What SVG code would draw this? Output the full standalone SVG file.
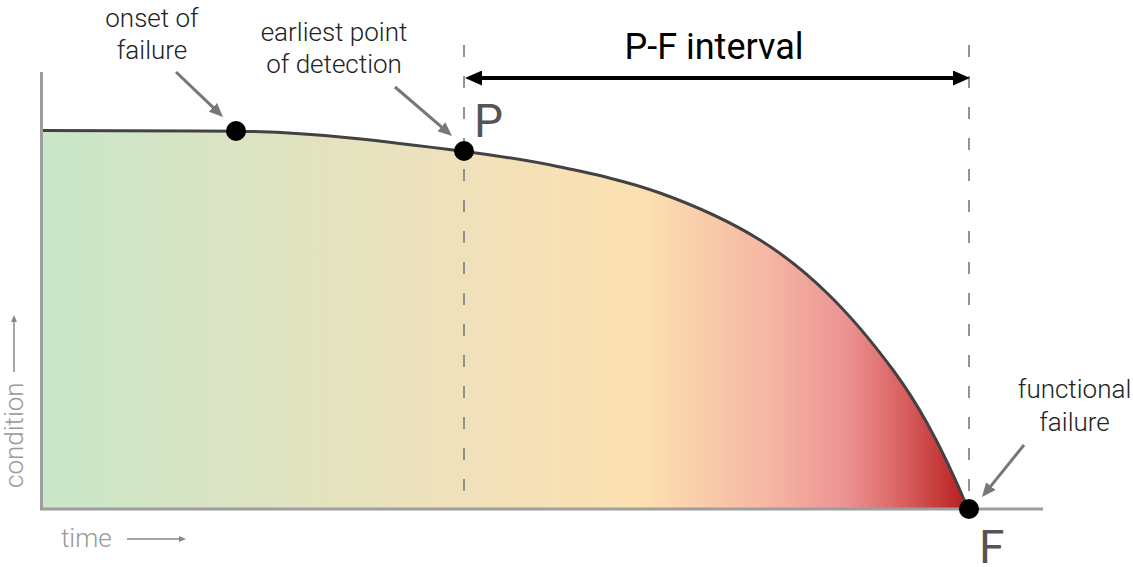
<svg xmlns="http://www.w3.org/2000/svg" width="1133" height="567" viewBox="0 0 1133 567">
  <style>
    .lbl { font-family: Roboto, "Liberation Sans", sans-serif; font-weight: 300; font-size: 26px; fill: #222; text-anchor: middle; }
    .ax { font-family: Roboto, "Liberation Sans", sans-serif; font-weight: 300; font-size: 26px; fill: #999; }
    .big { font-family: Roboto, "Liberation Sans", sans-serif; font-weight: 400; font-size: 46px; fill: #555; }
    .title { font-family: Roboto, "Liberation Sans", sans-serif; font-weight: 400; font-size: 36px; fill: #000; text-anchor: middle; }
    .dash { stroke: #888; stroke-width: 1.8; stroke-dasharray: 12 19; fill: none; }
    .axis { stroke: #9e9e9e; stroke-width: 3; fill: none; }
    .ann { stroke: #777; stroke-width: 3; fill: none; marker-end: url(#grayHead); }
    .axarrow { stroke: #888; stroke-width: 1.5; fill: none; marker-end: url(#smallHead); }
    .dot { fill: #000; }
  </style>
  <defs>
    <linearGradient id="cond" gradientUnits="userSpaceOnUse" x1="41" y1="0" x2="968" y2="0">
      <stop offset="0" stop-color="#c8e6c9"/>
      <stop offset="0.45" stop-color="#f0e1bb"/>
      <stop offset="0.65" stop-color="#fde0b0"/>
      <stop offset="0.78" stop-color="#f6b8a4"/>
      <stop offset="0.87" stop-color="#ec9292"/>
      <stop offset="0.93" stop-color="#d96060"/>
      <stop offset="1" stop-color="#b71c1c"/>
    </linearGradient>
    <marker id="grayHead" viewBox="0 0 14 12" refX="10" refY="6" markerWidth="14" markerHeight="12" markerUnits="userSpaceOnUse" orient="auto">
      <path d="M0,0 L14,6 L0,12 Z" fill="#777"/>
    </marker>
    <marker id="blackHead" viewBox="0 0 17 15" refX="12" refY="7.5" markerWidth="17" markerHeight="15" markerUnits="userSpaceOnUse" orient="auto-start-reverse">
      <path d="M0,0 L17,7.5 L0,15 Z" fill="#000"/>
    </marker>
    <marker id="smallHead" viewBox="0 0 7 6" refX="5" refY="3" markerWidth="7" markerHeight="6" markerUnits="userSpaceOnUse" orient="auto">
      <path d="M0,0 L7,3 L0,6 Z" fill="#888"/>
    </marker>
  </defs>

  <g id="condition-area">
    <path d="M41,130.5 C106,130.5 171,130.9 236,131.2 C312.3,132 388.7,141.6 465,151.5 C496.7,155.6 528.3,160.3 560,167 C593.3,174 626.7,181 660,193 C693.3,205 726.7,219.3 760,240 C782.3,253.8 804.7,271.4 827,293 C849,314.3 871,340.3 893,370 C904.3,385.3 915.7,402.6 927,423 C940.7,447.6 954.3,476.1 968,509 L41,509 Z" fill="url(#cond)"/>
  </g>

  <g id="guides">
    <line class="dash" x1="464" y1="45" x2="464" y2="500"/>
    <line class="dash" x1="969" y1="45" x2="969" y2="500"/>
  </g>

  <g id="curve">
    <path d="M41,130.5 C106,130.5 171,130.9 236,131.2 C312.3,132 388.7,141.6 465,151.5 C496.7,155.6 528.3,160.3 560,167 C593.3,174 626.7,181 660,193 C693.3,205 726.7,219.3 760,240 C782.3,253.8 804.7,271.4 827,293 C849,314.3 871,340.3 893,370 C904.3,385.3 915.7,402.6 927,423 C940.7,447.6 954.3,476.1 968,509" fill="none" stroke="#424242" stroke-width="3"/>
  </g>

  <g id="axes">
    <polyline class="axis" points="41.5,72 41.5,509 1043,509"/>
  </g>

  <g id="connectors">
    <line class="ann" x1="176" y1="72" x2="220.1" y2="114.2"/>
    <line class="ann" x1="395" y1="87" x2="449" y2="133.4"/>
    <line class="ann" x1="1024" y1="445" x2="984.5" y2="493.9"/>
    <line x1="470" y1="78" x2="965" y2="78" stroke="#000" stroke-width="4" marker-start="url(#blackHead)" marker-end="url(#blackHead)"/>
    <line class="axarrow" x1="14" y1="372" x2="14" y2="317"/>
    <line class="axarrow" x1="127" y1="539" x2="184" y2="539"/>
  </g>

  <g id="onset">
    <circle class="dot" cx="236" cy="131" r="10"/>
    <text class="lbl" x="152" y="27">onset of</text>
    <text class="lbl" x="152" y="58.5">failure</text>
  </g>

  <g id="point-P">
    <circle class="dot" cx="464" cy="151" r="10"/>
    <text class="lbl" x="334" y="41">earliest point</text>
    <text class="lbl" x="334" y="72.5">of detection</text>
    <text class="big" x="474" y="137">P</text>
  </g>

  <g id="point-F">
    <circle class="dot" cx="969" cy="509" r="10"/>
    <text class="lbl" x="1074.5" y="398">functional</text>
    <text class="lbl" x="1074.5" y="431">failure</text>
    <text class="big" x="979" y="563">F</text>
  </g>

  <g id="interval">
    <text class="title" x="714" y="59">P-F interval</text>
  </g>

  <g id="axis-labels">
    <text class="ax" transform="translate(23,488) rotate(-90)">condition</text>
    <text class="ax" x="61" y="547">time</text>
  </g>
</svg>
